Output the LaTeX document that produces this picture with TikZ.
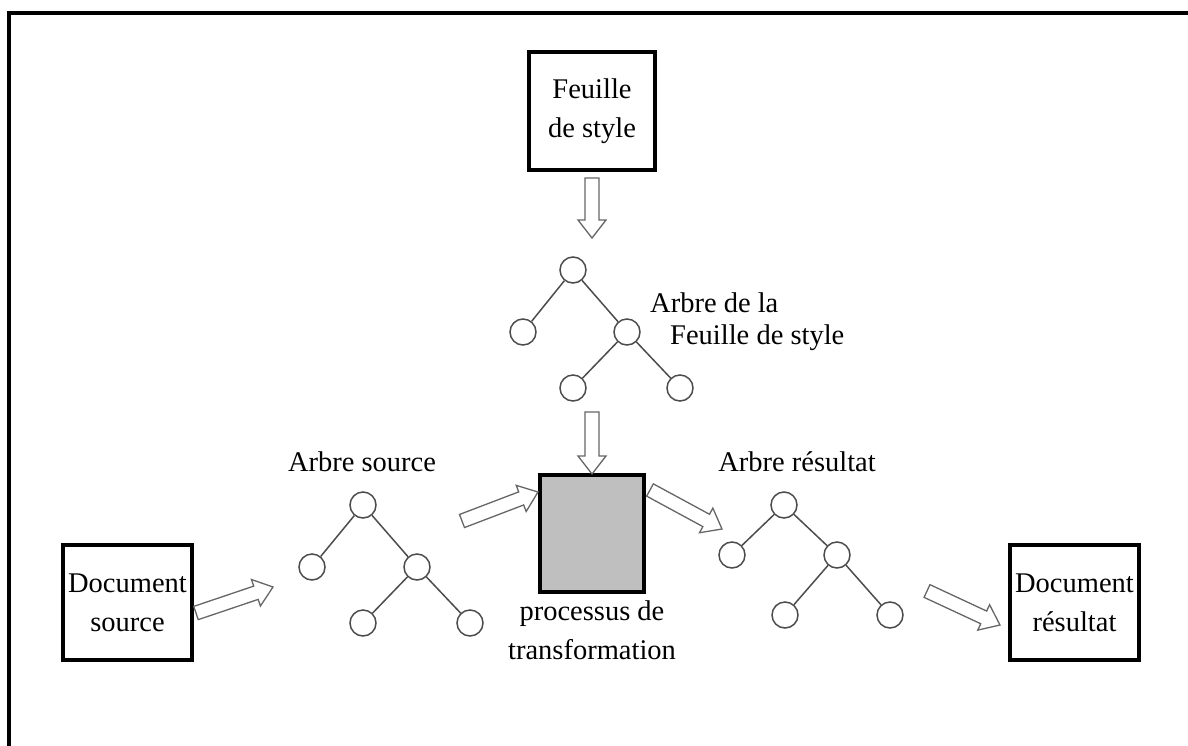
\documentclass[tikz,border=0pt]{standalone}
\usepackage{fontspec}
\setmainfont{Liberation Serif}
\usetikzlibrary{calc}

% Hollow block arrow from #1 to #2 (tip at #2)
\newcommand\blockarrow[2]{%
  \coordinate (ba-neck) at ($(#2)!18pt!(#1)$);
  \draw[blockarrow]
    ($(#1)!7pt!90:(#2)$) -- ($(ba-neck)!7pt!90:(#2)$) -- ($(ba-neck)!14pt!90:(#2)$)
    -- (#2)
    -- ($(ba-neck)!14pt!-90:(#2)$) -- ($(ba-neck)!7pt!-90:(#2)$) -- ($(#1)!7pt!-90:(#2)$)
    -- cycle;}

\begin{document}
\begin{tikzpicture}[x=1pt,y=-1pt,
  every node/.style={font=\fontsize{28.5}{39}\selectfont, inner sep=0pt},
  docbox/.style={draw, line width=4pt, align=center},
  procbox/.style={draw, line width=4pt, fill=black!25},
  treenode/.style={circle, draw=black!70, line width=1.5pt, minimum size=26pt},
  treeedge/.style={draw=black!70, line width=1.5pt},
  blockarrow/.style={draw=black!60, line width=1.3pt, fill=white, line join=miter},
  frameline/.style={line width=4pt, line cap=rect}]

\useasboundingbox (0,0) rectangle (1188,745);

% page frame (top and left rules)
\draw[frameline] (9,745) -- (9,13) -- (1188,13);

% boxes
\node[docbox, minimum width=126pt, minimum height=118pt] (style) at (592,111) {Feuille\\de style};
\node[procbox, minimum width=104pt, minimum height=117pt] (proc) at (592,533.5) {};
\node[docbox, minimum width=129pt, minimum height=115pt] (docsrc) at (127.5,602.5) {Document\\source};
\node[docbox, minimum width=129pt, minimum height=115pt] (docres) at (1074.5,602.5) {Document\\résultat};

% labels
\node[anchor=west] (lblA) at (650,303) {Arbre de la};
\node[anchor=west] (lblB) at (670,338) {Feuille de style};
\node (lblsrc) at (362,462) {Arbre source};
\node (lblres) at (797,462) {Arbre résultat};
\node[align=center] (lblproc) at (592,630) {processus de\\transformation};

% style-sheet tree
\node[treenode] (t1) at (573,270) {};
\node[treenode] (t2) at (523,332) {};
\node[treenode] (t3) at (627,332) {};
\node[treenode] (t4) at (573,388) {};
\node[treenode] (t5) at (680,388) {};
\draw[treeedge] (t1) -- (t2) (t1) -- (t3) (t3) -- (t4) (t3) -- (t5);

% source tree
\node[treenode] (s1) at (363,505) {};
\node[treenode] (s2) at (312,567) {};
\node[treenode] (s3) at (417,567) {};
\node[treenode] (s4) at (363,623) {};
\node[treenode] (s5) at (470,623) {};
\draw[treeedge] (s1) -- (s2) (s1) -- (s3) (s3) -- (s4) (s3) -- (s5);

% result tree
\node[treenode] (r1) at (784,505) {};
\node[treenode] (r2) at (732,555) {};
\node[treenode] (r3) at (837,555) {};
\node[treenode] (r4) at (785,615) {};
\node[treenode] (r5) at (890,615) {};
\draw[treeedge] (r1) -- (r2) (r1) -- (r3) (r3) -- (r4) (r3) -- (r5);

% arrow end points
\coordinate (a1s) at (592,178);  \coordinate (a1e) at (592,238);
\coordinate (a2s) at (592,412);  \coordinate (a2e) at (592,474);
\coordinate (a3s) at (196,613);  \coordinate (a3e) at (273,587);
\coordinate (a4s) at (462,521);  \coordinate (a4e) at (538,492);
\coordinate (a5s) at (650,490);  \coordinate (a5e) at (722,529);
\coordinate (a6s) at (927,591);  \coordinate (a6e) at (1000,625);

\blockarrow{a1s}{a1e}
\blockarrow{a2s}{a2e}
\blockarrow{a3s}{a3e}
\blockarrow{a4s}{a4e}
\blockarrow{a5s}{a5e}
\blockarrow{a6s}{a6e}

\end{tikzpicture}
\end{document}
